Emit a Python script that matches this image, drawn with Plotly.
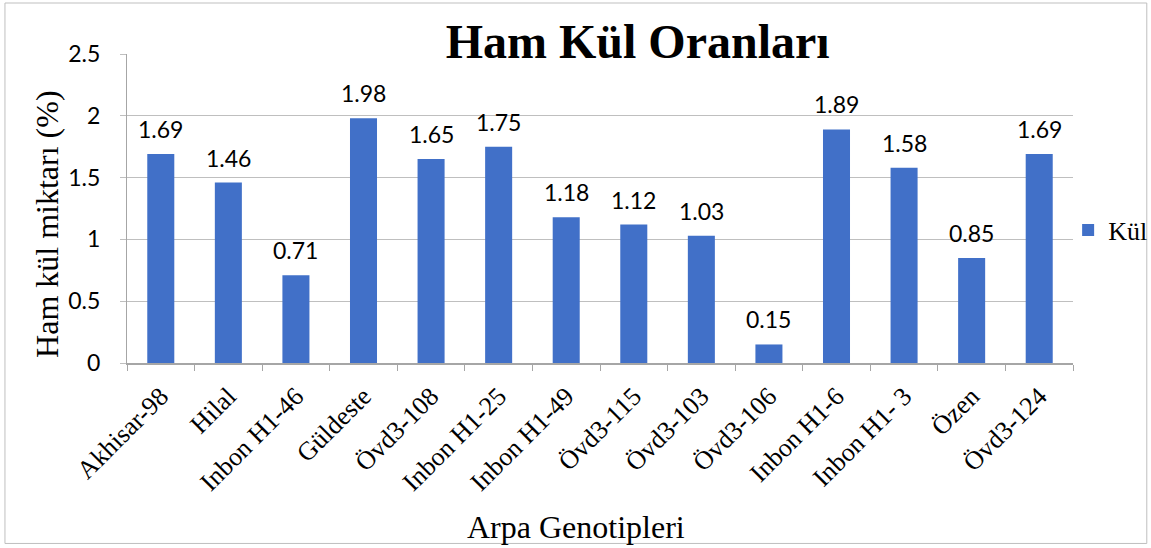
import plotly.graph_objects as go

categories = ["Akhisar-98", "Hilal", "Inbon H1-46", "Güldeste", "Övd3-108", "Inbon H1-25",
              "Inbon H1-49", "Övd3-115", "Övd3-103", "Övd3-106", "Inbon H1-6", "Inbon H1- 3",
              "Özen", "Övd3-124"]
kul = [1.69, 1.46, 0.71, 1.98, 1.65, 1.75, 1.18, 1.12, 1.03, 0.15, 1.89, 1.58, 0.85, 1.69]
y_ticks = [0, 0.5, 1, 1.5, 2, 2.5]

SERIF = "Liberation Serif, Times New Roman, serif"
SANS = "Lato, Liberation Sans, sans-serif"

fig = go.Figure()
fig.add_trace(go.Bar(
    x=categories, y=kul, name="Kül",
    marker=dict(color="#4170C8", line=dict(width=0)),
    width=0.4,
))

for c, v in zip(categories, kul):
    fig.add_annotation(x=c, y=v, text=f"{v:.2f}", showarrow=False,
                       yanchor="bottom", yshift=9,
                       font=dict(family=SANS, size=23, color="#000000"))

fig.add_annotation(xref="paper", yref="paper", x=-0.0846, y=0.45,
                   xanchor="center", yanchor="middle",
                   text="Ham kül miktarı (%)", textangle=-90, showarrow=False,
                   font=dict(family=SERIF, size=32, color="#000000"))
fig.add_annotation(xref="paper", yref="paper", x=0.475, y=-0.531,
                   xanchor="center", yanchor="middle",
                   text="Arpa Genotipleri", showarrow=False,
                   font=dict(family=SERIF, size=32, color="#000000"))

fig.add_shape(type="rect", xref="paper", yref="paper",
              x0=-0.129, x1=1.078, y0=-0.584, y1=1.165,
              line=dict(color="#BFBFBF", width=1))

fig.update_layout(
    width=1151, height=548,
    margin=dict(l=127, r=78, t=54, b=185, autoexpand=False),
    paper_bgcolor="white", plot_bgcolor="white",
    title=dict(text="<b>Ham Kül Oranları</b>", x=0.554, xanchor="center",
               y=0.925, yanchor="middle", yref="container",
               font=dict(family=SERIF, size=48, color="#000000")),
    showlegend=True,
    legend=dict(xref="container", yref="container", x=0.928, y=0.58,
                xanchor="left", yanchor="middle",
                font=dict(family=SERIF, size=26, color="#000000"),
                itemwidth=30, bgcolor="rgba(0,0,0,0)"),
    bargap=0.6,
)
fig.update_xaxes(
    type="category", tickangle=-45, automargin=False,
    tickfont=dict(family=SERIF, size=26, color="#000000"),
    ticklabelstandoff=6,
    showline=True, linecolor="#A6A6A6", linewidth=1.5,
    ticks="outside", tickson="boundaries", ticklen=6, tickcolor="#A6A6A6",
    showgrid=False,
)
fig.update_yaxes(
    range=[0, 2.5], tickvals=y_ticks, ticktext=[f"{t:g}" for t in y_ticks],
    automargin=False,
    tickfont=dict(family=SANS, size=23, color="#000000"),
    ticklabelstandoff=15,
    showline=True, linecolor="#A6A6A6", linewidth=1,
    ticks="outside", ticklen=6, tickcolor="#BFBFBF",
    showgrid=True, gridcolor="#BFBFBF", gridwidth=1, zeroline=False,
)

fig.write_html("out.html", config={"displayModeBar": False},
               post_script="document.body.style.margin='0';")
